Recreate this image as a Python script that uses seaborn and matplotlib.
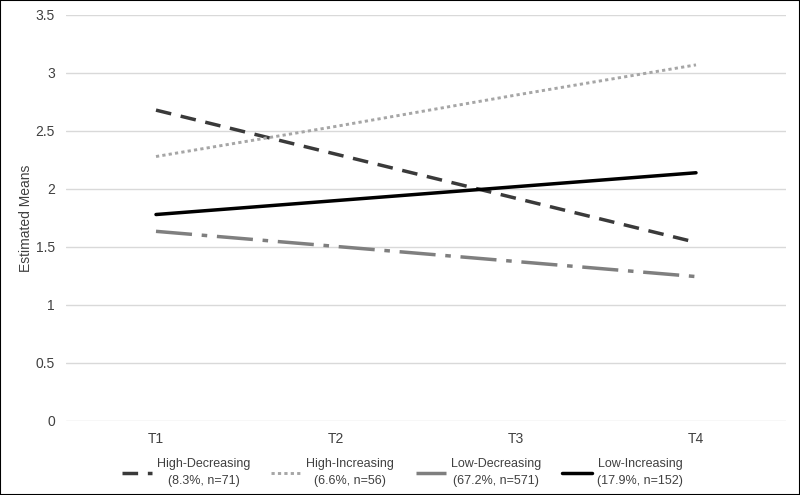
import pandas as pd
import matplotlib
matplotlib.use("Agg")
import matplotlib.pyplot as plt
import seaborn as sns
from matplotlib.patches import Rectangle

# Data
times = ["T1", "T2", "T3", "T4"]
high_decreasing = [2.68, 2.30, 1.92, 1.54]
high_increasing = [2.28, 2.54, 2.81, 3.07]
low_decreasing = [1.635, 1.505, 1.375, 1.245]
low_increasing = [1.78, 1.90, 2.02, 2.14]
labels = ["High-Decreasing\n(8.3%, n=71)", "High-Increasing\n(6.6%, n=56)",
          "Low-Decreasing\n(67.2%, n=571)", "Low-Increasing\n(17.9%, n=152)"]

sns.set_theme(style="white")
plt.rcParams['font.family'] = ['Liberation Sans', 'DejaVu Sans']

fig = plt.figure(figsize=(8, 4.95), dpi=100)
ax = fig.add_axes([0.0825, 0.1495, 0.9, 0.8202])

series = [high_decreasing, high_increasing, low_decreasing, low_increasing]
colors = ["#3a3a3a", "#a6a6a6", "#7f7f7f", "#000000"]
widths = [2.5, 2.1, 2.5, 2.5]
styles = [(0, (4.5, 2.8)), (0, (1.1, 1.1)), (0, (10.4, 2.8, 1.6, 2.8)), "-"]

for vals, lab, col, lw, ls in zip(series, labels, colors, widths, styles):
    df = pd.DataFrame({"Time": times, "Mean": vals})
    sns.lineplot(data=df, x="Time", y="Mean", ax=ax, color=col, linewidth=lw,
                 linestyle=ls, label=lab, sort=False)

ax.set_xlim(-0.5, 3.5)
ax.set_ylim(0, 3.5)
ax.set_yticks([0, 0.5, 1, 1.5, 2, 2.5, 3, 3.5])
ax.set_yticklabels(["0", "0.5", "1", "1.5", "2", "2.5", "3", "3.5"])
ax.yaxis.grid(True, color="#d9d9d9", linewidth=1)
ax.xaxis.grid(False)
ax.set_axisbelow(True)
for s in ax.spines.values():
    s.set_visible(False)
ax.tick_params(axis="both", length=0, labelsize=10, labelcolor="#404040")
ax.tick_params(axis="x", pad=8)
ax.tick_params(axis="y", pad=8)
ax.set_xlabel("")
ax.set_ylabel("Estimated Means", fontsize=10, color="#404040", labelpad=2)

handles, labs = ax.get_legend_handles_labels()
ax.get_legend().remove()
leg = fig.legend(handles, labs, loc="center", bbox_to_anchor=(0.503, 0.045),
                 ncol=4, frameon=False, fontsize=9, handlelength=2.4,
                 handletextpad=0.4, columnspacing=1.7, labelcolor="#404040")
for t in leg.get_texts():
    t.set_multialignment("center")
    t.set_linespacing(1.5)

# thin outer frame like the exported chart
fig.patches.append(Rectangle((0, 0), 1, 1, transform=fig.transFigure,
                             fill=False, edgecolor="#000000", linewidth=1.5))

fig.savefig("out.png", dpi=100)
